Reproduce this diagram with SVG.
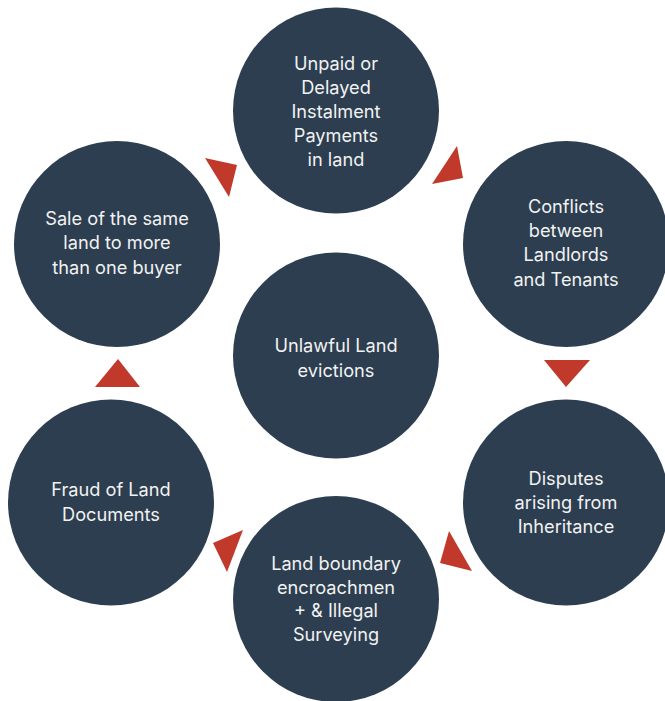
<svg xmlns="http://www.w3.org/2000/svg" width="665" height="701" viewBox="0 0 665 701">
<style>
.node circle{fill:#2c3e50}
.node text{fill:#f2f2f2;font-family:Inter,"Liberation Sans",sans-serif;font-size:18.2px;text-anchor:middle}
.arrow{fill:#c0392b}
</style>
<rect width="665" height="701" fill="#ffffff"/>
<g id="connectors">
<polygon class="arrow" points="205,158 237,165 229,197"/>
<polygon class="arrow" points="457,146 463,178 432,184"/>
<polygon class="arrow" points="544,360 590,360 566,387"/>
<polygon class="arrow" points="449,531 472,571 440,563"/>
<polygon class="arrow" points="243,530 213,543 227,572"/>
<polygon class="arrow" points="118,359 95,387 140,387"/>
</g>
<g id="node-top" class="node">
<circle cx="336" cy="110.5" r="103"/>
<text x="336" y="69.5">Unpaid or</text>
<text x="336" y="93.7">Delayed</text>
<text x="336" y="117.9">Instalment</text>
<text x="336" y="142.1">Payments</text>
<text x="336" y="166.3">in land</text>
</g>
<g id="node-right-upper" class="node">
<circle cx="566" cy="244" r="103"/>
<text x="566" y="213">Conflicts</text>
<text x="566" y="237.2">between</text>
<text x="566" y="261.4">Landlords</text>
<text x="566" y="285.6">and Tenants</text>
</g>
<g id="node-right-lower" class="node">
<circle cx="566" cy="502.5" r="103"/>
<text x="566" y="485">Disputes</text>
<text x="566" y="509.2">arising from</text>
<text x="566" y="533.4">Inheritance</text>
</g>
<g id="node-bottom" class="node">
<circle cx="336" cy="599" r="103"/>
<text x="336" y="570">Land boundary</text>
<text x="336" y="593.7">encroachmen</text>
<text x="336" y="617.4">+ &amp; Illegal</text>
<text x="336" y="641.1">Surveying</text>
</g>
<g id="node-left-lower" class="node">
<circle cx="111" cy="502.5" r="103"/>
<text x="111" y="496">Fraud of Land</text>
<text x="111" y="520.5">Documents</text>
</g>
<g id="node-left-upper" class="node">
<circle cx="117" cy="244" r="103"/>
<text x="117" y="225">Sale of the same</text>
<text x="117" y="249.3">land to more</text>
<text x="117" y="273.6">than one buyer</text>
</g>
<g id="node-center" class="node">
<circle cx="336" cy="355.5" r="103"/>
<text x="336" y="352">Unlawful Land</text>
<text x="336" y="376.5">evictions</text>
</g>
</svg>
